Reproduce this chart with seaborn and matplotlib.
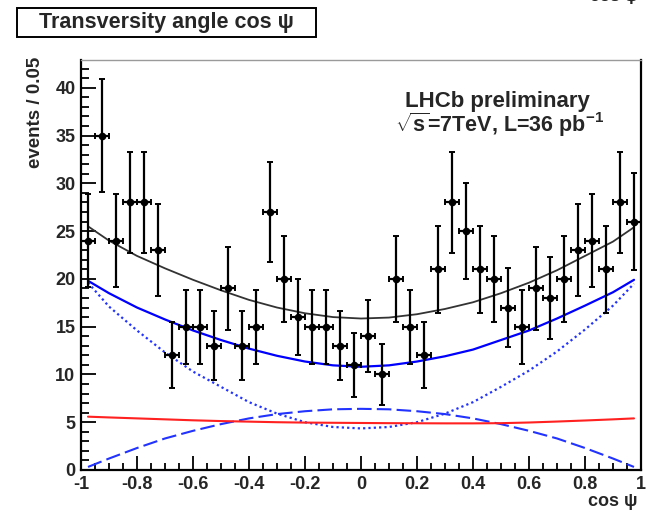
import numpy as np
import pandas as pd
import matplotlib
matplotlib.use("Agg")
import matplotlib.pyplot as plt
from matplotlib.patches import Rectangle
from matplotlib.ticker import FixedLocator, FixedFormatter, MultipleLocator
import seaborn as sns

# ---------------- data ----------------
bin_centers = [-0.975, -0.925, -0.875, -0.825, -0.775, -0.725, -0.675, -0.625,
               -0.575, -0.525, -0.475, -0.425, -0.375, -0.325, -0.275, -0.225,
               -0.175, -0.125, -0.075, -0.025, 0.025, 0.075, 0.125, 0.175,
               0.225, 0.275, 0.325, 0.375, 0.425, 0.475, 0.525, 0.575,
               0.625, 0.675, 0.725, 0.775, 0.825, 0.875, 0.925, 0.975]
events = [24, 35, 24, 28, 28, 23, 12, 15, 15, 13, 19, 13, 15, 27, 20, 16, 15, 15, 13, 11,
          14, 10, 20, 15, 12, 21, 28, 25, 21, 20, 17, 15, 19, 18, 20, 23, 24, 21, 28, 26]

curve_x = [-0.975, -0.9, -0.8, -0.7, -0.6, -0.5, -0.4, -0.3, -0.2, -0.1, 0.0,
           0.1, 0.2, 0.3, 0.4, 0.5, 0.6, 0.7, 0.8, 0.9, 0.975]
total_fit = [25.5, 24.0, 22.4, 21.1, 19.9, 18.8, 17.8, 17.0, 16.4, 16.0, 15.85,
             15.95, 16.3, 16.85, 17.55, 18.5, 19.6, 20.9, 22.4, 23.9, 25.4]
signal_fit = [19.8, 18.5, 17.0, 15.75, 14.6, 13.6, 12.7, 11.95, 11.35, 10.95, 10.8,
              10.95, 11.35, 11.9, 12.6, 13.6, 14.6, 15.85, 17.2, 18.6, 19.9]
even_fit = [19.6, 17.1, 14.6, 12.3, 10.3, 8.7, 7.1, 5.9, 5.0, 4.5, 4.35,
            4.5, 5.0, 5.9, 7.1, 8.7, 10.4, 12.4, 14.7, 17.2, 19.5]
odd_fit = [0.32, 1.2, 2.3, 3.3, 4.1, 4.8, 5.4, 5.85, 6.15, 6.35, 6.4,
           6.35, 6.15, 5.85, 5.4, 4.8, 4.1, 3.3, 2.3, 1.2, 0.32]
background_fit = [5.58, 5.5, 5.4, 5.3, 5.2, 5.12, 5.06, 5.0, 4.96, 4.94, 4.92,
                  4.9, 4.89, 4.88, 4.88, 4.9, 4.97, 5.07, 5.18, 5.3, 5.4]

x_ticks = [-1, -0.8, -0.6, -0.4, -0.2, 0, 0.2, 0.4, 0.6, 0.8, 1]
x_tick_labels = ["-1", "-0.8", "-0.6", "-0.4", "-0.2", "0", "0.2", "0.4", "0.6", "0.8", "1"]
y_ticks = [0, 5, 10, 15, 20, 25, 30, 35, 40]
y_tick_labels = ["0", "5", "10", "15", "20", "25", "30", "35", "40"]

title_text = "Transversity angle cos \u03c8"
xlabel_text = "cos \u03c8"
ylabel_text = "events / 0.05"

# ---------------- style ----------------
sns.set_theme(style="ticks")
plt.rcParams["font.family"] = ["Liberation Sans", "DejaVu Sans"]
plt.rcParams["font.weight"] = "bold"
plt.rcParams["mathtext.fontset"] = "custom"
plt.rcParams["mathtext.rm"] = "Liberation Sans:bold"
plt.rcParams["mathtext.it"] = "Liberation Sans:bold"
plt.rcParams["mathtext.bf"] = "Liberation Sans:bold"

fig = plt.figure(figsize=(6.48, 5.15), dpi=100)
ax = fig.add_axes([81 / 648, 1 - 470 / 515, 560 / 648, 410 / 515])

curves = pd.DataFrame({"x": curve_x, "total": total_fit, "signal": signal_fit,
                       "even": even_fit, "odd": odd_fit, "bkg": background_fit})

sns.lineplot(data=curves, x="x", y="total", ax=ax, color="#333333", lw=1.3)
sns.lineplot(data=curves, x="x", y="signal", ax=ax, color="#0000ff", lw=1.6)
sns.lineplot(data=curves, x="x", y="even", ax=ax, color="#2233ff", lw=1.6,
             linestyle=(0, (1.0, 1.4)))
sns.lineplot(data=curves, x="x", y="odd", ax=ax, color="#2233ff", lw=1.5,
             linestyle=(0, (7, 2.5)))
sns.lineplot(data=curves, x="x", y="bkg", ax=ax, color="#ff2020", lw=1.5)

pts = pd.DataFrame({"x": bin_centers, "n": events})
ax.errorbar(pts["x"], pts["n"], yerr=np.sqrt(pts["n"]), xerr=0.025, fmt="none",
            ecolor="black", elinewidth=1.6, capsize=2.5, capthick=1.4, zorder=5)
sns.scatterplot(data=pts, x="x", y="n", ax=ax, color="black", s=30,
                edgecolor="black", linewidth=0, zorder=6)

ax.set_xlim(-1, 1)
ax.set_ylim(0, 42.9)
ax.xaxis.set_major_locator(FixedLocator(x_ticks))
ax.xaxis.set_major_formatter(FixedFormatter(x_tick_labels))
ax.xaxis.set_minor_locator(MultipleLocator(0.05))
ax.yaxis.set_major_locator(FixedLocator(y_ticks))
ax.yaxis.set_major_formatter(FixedFormatter(y_tick_labels))
ax.yaxis.set_minor_locator(MultipleLocator(1))
ax.tick_params(axis="both", which="both", direction="in", color="black",
               top=False, right=False, labelsize=13, width=1.3)
ax.tick_params(axis="x", which="major", length=10, pad=4)
ax.tick_params(axis="x", which="minor", length=5)
ax.tick_params(axis="y", which="major", length=11, pad=4)
ax.tick_params(axis="y", which="minor", length=5.5)
for lab in ax.get_xticklabels() + ax.get_yticklabels():
    lab.set_fontweight("bold")
ax.set_xlabel("")
ax.set_ylabel("")
for side in ["left", "bottom", "right"]:
    ax.spines[side].set_color("black")
    ax.spines[side].set_linewidth(1.6)
ax.spines["top"].set_color("#9a9a9a")
ax.spines["top"].set_linewidth(1.0)

# labels
fig.text(637 / 648, 1 - 506 / 515, xlabel_text, ha="right", va="baseline",
         fontsize=13, fontweight="bold")
fig.text(35.5 / 648, 1 - 57 / 515, ylabel_text, ha="center", va="top",
         rotation=90, fontsize=13.5, fontweight="bold")

# title box
fig.patches.append(Rectangle((17 / 648, 1 - 37 / 515), 299 / 648, 29 / 515,
                             transform=fig.transFigure, fill=False,
                             edgecolor="black", lw=1.4))
fig.text(166.5 / 648, 1 - 22.5 / 515, title_text, ha="center", va="center",
         fontsize=15.5, fontweight="bold")

# cut-off text at top right (only its lowest pixels show)
fig.text(638 / 648, 1 - 1.5 / 515, xlabel_text, ha="right", va="baseline",
         fontsize=12.5, fontweight="bold")

# LHCb label
fig.text(497 / 648, 1 - 107 / 515, "LHCb preliminary", ha="center",
         va="baseline", fontsize=16, fontweight="bold")
fig.text(500 / 648, 1 - 132 / 515, r"$\sqrt{\mathrm{s}}$=7TeV, L=36 pb$^{-1}$",
         ha="center", va="baseline", fontsize=15.5, fontweight="bold")

fig.savefig("out.png", dpi=100)
